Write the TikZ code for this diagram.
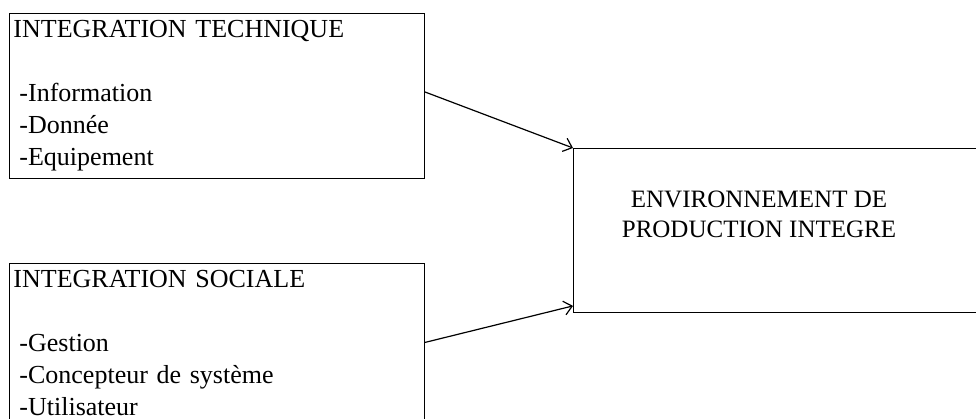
\documentclass[tikz,border=0pt]{standalone}
\usepackage{fontspec}
\setmainfont{Liberation Serif}
\usepackage{tikz}
\usetikzlibrary{positioning, arrows.meta}

\begin{document}
\begin{tikzpicture}[x=1pt, y=-1pt, >={Straight Barb[length=8pt, width=14pt]},
        box/.style={draw, line width=0.9pt, rectangle, anchor=north west, inner xsep=4pt, inner ysep=0pt,
            minimum width=415pt, minimum height=165pt, text width=407pt, align=left,
            font=\fontsize{26}{32}\selectfont},
        fleche/.style={->, line width=1.2pt}]
        \clip (0,0) rectangle (976,419);  % cadre de la page
        \node[box] (tech) at (9,13) {INTEGRATION TECHNIQUE\\[32pt]
            \hspace*{6pt}-Information\\
            \hspace*{6pt}-Donnée\\
            \hspace*{6pt}-Equipement};
        \node[box, minimum height=160pt] (soc) at (9,263) {INTEGRATION SOCIALE\\[32pt]
            \hspace*{6pt}-Gestion\\
            \hspace*{6pt}-Concepteur de système\\
            \hspace*{6pt}-Utilisateur};
        \node[draw, line width=0.9pt, anchor=north west, minimum width=430pt, minimum height=164pt] (env) at (573,148) {};
        \node[align=center, inner sep=0pt, font=\fontsize{25}{30}\selectfont] (envtext) at (759,214)
            {ENVIRONNEMENT DE\\PRODUCTION INTEGRE};
        \draw[fleche] ([yshift=4pt]tech.east) -- (env.north west);
        \draw[fleche] ([yshift=1pt]soc.east) -- ([yshift=7pt]env.south west);
    \end{tikzpicture}
\end{document}
